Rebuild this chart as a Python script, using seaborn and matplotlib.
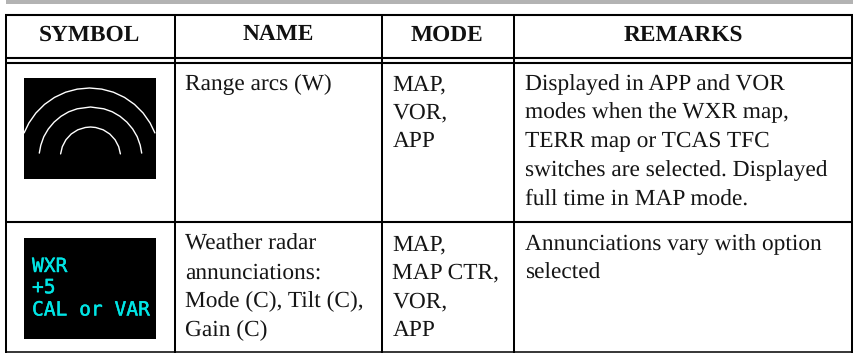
import pandas as pd
import seaborn as sns
import matplotlib.pyplot as plt
import matplotlib.patheffects as pe

headers = ['SYMBOL', 'NAME', 'MODE', 'REMARKS']
header_x = [89.7, 278, 447.3, 683]

names = [['Range arcs (W)'],
         ['Weather radar', 'annunciations:', 'Mode (C), Tilt (C),', 'Gain (C)']]
modes = [['MAP,', 'VOR,', 'APP'],
         ['MAP,', 'MAP CTR,', 'VOR,', 'APP']]
remarks = [['Displayed in APP and VOR', 'modes when the WXR map,', 'TERR map or TCAS TFC',
            'switches are selected. Displayed', 'full time in MAP mode.'],
           ['Annunciations vary with option', 'selected']]
symbol_text = ['WXR', '+5', 'CAL or VAR']

# arc traces, left end over the top to the right end
outer_x = [24.1, 28.9, 35.9, 44.5, 54.5, 65.6, 77.3, 89.5, 101.7, 113.4, 124.5, 134.5, 143.1, 150.1, 154.9]
outer_y = [132.9, 123, 113, 104.4, 97.4, 92.2, 89.1, 88, 89.1, 92.2, 97.4, 104.4, 113, 123, 132.9]
middle_x = [39.3, 40.8, 43.8, 48.3, 54.1, 61, 68.7, 77.2, 90.5, 103.8, 112.3, 120, 126.9, 132.7, 137.2, 140.2, 141.7]
middle_y = [153.1, 145.2, 136.7, 129, 122.1, 116.3, 111.8, 108.8, 107, 108.8, 111.8, 116.3, 122.1, 129, 136.7, 145.2, 153.1]
inner_x = [60.6, 62.3, 65.9, 71.2, 77.8, 85.3, 90.5, 95.7, 103.2, 109.8, 115.1, 118.7, 120.4]
inner_y = [153.9, 146.7, 139.8, 134, 129.8, 127.5, 127, 127.5, 129.8, 134, 139.8, 146.7, 153.9]

arcs = pd.concat([
    pd.DataFrame({'x': outer_x, 'y': outer_y, 'arc': 'outer'}),
    pd.DataFrame({'x': middle_x, 'y': middle_y, 'arc': 'middle'}),
    pd.DataFrame({'x': inner_x, 'y': inner_y, 'arc': 'inner'}),
])

sns.set_style('white')
plt.rcParams['font.family'] = ['Liberation Serif', 'DejaVu Serif']
plt.rcParams['text.hinting'] = 'no_hinting'
plt.rcParams['text.hinting_factor'] = 8

fig = plt.figure(figsize=(8.57, 3.53), dpi=100)
ax = fig.add_axes([0, 0, 1, 1])
ax.set_xlim(0, 857)
ax.set_ylim(353, 0)
ax.axis('off')

# grey bar on top
ax.fill_between([6, 853], 0, 4, color='#b3b3b3', lw=0)

# black symbol boxes
ax.fill_between([24, 156], 78, 179, color='black', lw=0)
ax.fill_between([24, 156], 238, 339, color='black', lw=0)

sns.lineplot(data=arcs, x='x', y='y', units='arc', estimator=None, sort=False,
             color='white', linewidth=1.0, ax=ax)
ax.set_xlim(0, 857)
ax.set_ylim(353, 0)

# table rules
for y, w in [(14.5, 1.5), (58, 1.5), (62.5, 1.5), (222, 1.5), (352, 1.1)]:
    ax.plot([5.5, 853.2], [y, y], color='black', lw=w, solid_capstyle='butt')
for x in [6.3, 175, 381.7, 514, 852.5]:
    ax.plot([x, x], [14, 352.5], color='black', lw=1.45, solid_capstyle='butt')

for label, x in zip(headers, header_x):
    ax.text(x, 40.3, label, ha='center', va='baseline', fontsize=16.85, fontweight='bold', color='#111111')

row_top = [90, 250]
pitch = 28.55
for col_x, col in [(185, names), (392.5, modes), (524.7, remarks)]:
    for r, lines in enumerate(col):
        for i, line in enumerate(lines):
            ax.text(col_x, row_top[r] + i * pitch, line, ha='left', va='baseline',
                    fontsize=16.85, color='#151515')

for line, y in zip(symbol_text, [272, 293.2, 315.5]):
    ax.text(32, y, line, ha='left', va='baseline', fontsize=14.1,
            family='DejaVu Sans Mono', color='#00e5e5',
            path_effects=[pe.withStroke(linewidth=0.3, foreground='#00e5e5')])

fig.savefig('out.png', dpi=100)
